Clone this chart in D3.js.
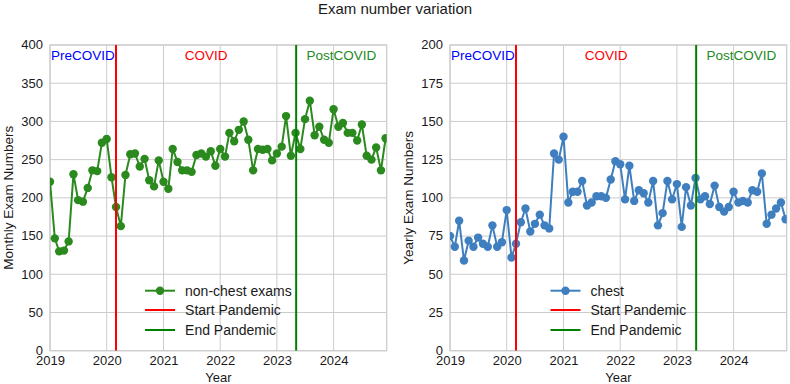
<!DOCTYPE html>
<html><head><meta charset="utf-8">
<script src="https://cdn.jsdelivr.net/npm/d3@7"></script>
<style>body{margin:0;background:#fff}svg text{font-family:"Liberation Sans",Arial,Helvetica,sans-serif}</style>
</head><body>
<svg id="c" width="790" height="384"></svg>
<script>
// ---- data ----
const monthIndex = d3.range(72);
const months = monthIndex.map(i => new Date(2019, i, 1));
const nonChest = [221,147,130,131,143,231,197,195,213,236,235,272,
                  277,227,188,163,230,257,258,241,251,223,215,249,
                  221,212,264,247,236,236,234,256,258,254,261,242,
                  264,254,285,274,289,300,276,236,264,263,264,249,
                  258,267,307,255,285,264,303,327,282,293,276,272,
                  316,293,298,285,285,275,296,255,250,266,236,278];
const chest = [75,68,85,59,72,68,74,70,68,82,68,71,
               92,61,70,84,93,78,83,89,82,80,129,125,
               140,97,104,104,111,95,97,101,101,100,112,124,
               122,99,121,98,105,103,97,111,82,90,111,99,
               109,81,107,95,113,99,101,96,108,94,91,94,
               104,97,98,97,105,104,116,83,89,93,97,86];
const xTickYears = [2019,2020,2021,2022,2023,2024];
const leftYTicks = [0,50,100,150,200,250,300,350,400];
const rightYTicks = [0,25,50,75,100,125,150,175,200];
const pandemicStart = new Date(2020, 2, 1);
const pandemicEnd = new Date(2023, 4, 5);
const periodLabels = ["PreCOVID","COVID","PostCOVID"];
const periodColors = ["#0000ff","#ff0000","#228B22"];
const legendLabels = ["Start Pandemic","End Pandemic"];

// ---- layout ----
const svg = d3.select("#c");
const yTop = 45, yBottom = 350.7;
const xDomain = [new Date(2019,0,1), new Date(2024,11,8)];
const gridColor = "#cccccc";
const textColor = "#1a1a1a";

svg.append("text").attr("x", 395).attr("y", 14).attr("text-anchor","middle")
  .attr("font-size", 15).attr("fill", textColor).text("Exam number variation");

const panels = [
  {x0:50, x1:386.7, data:nonChest, yMax:400, yTicks:leftYTicks, color:"#2a8a1e",
   ylabel:"Monthly Exam Numbers", ylabX:12.5, series:"non-chest exams", id:"L"},
  {x0:450, x1:786.7, data:chest, yMax:200, yTicks:rightYTicks, color:"#3f7fbf",
   ylabel:"Yearly Exam Numbers", ylabX:412.5, series:"chest", id:"R"}
];

panels.forEach(p => {
  const x = d3.scaleTime().domain(xDomain).range([p.x0, p.x1]);
  const y = d3.scaleLinear().domain([0, p.yMax]).range([yBottom, yTop]);
  const g = svg.append("g");

  svg.append("clipPath").attr("id","clip"+p.id).append("rect")
    .attr("x", p.x0).attr("y", yTop).attr("width", p.x1-p.x0).attr("height", yBottom-yTop);

  // grid
  g.selectAll(".hg").data(p.yTicks).join("line")
    .attr("x1", p.x0).attr("x2", p.x1).attr("y1", d=>y(d)).attr("y2", d=>y(d))
    .attr("stroke", gridColor).attr("stroke-width", 1);
  const yearDates = xTickYears.map(yr => new Date(yr,0,1));
  g.selectAll(".vg").data(yearDates).join("line")
    .attr("x1", d=>x(d)).attr("x2", d=>x(d)).attr("y1", yTop).attr("y2", yBottom)
    .attr("stroke", gridColor).attr("stroke-width", 1);

  // frame
  g.append("rect").attr("x", p.x0).attr("y", yTop).attr("width", p.x1-p.x0).attr("height", yBottom-yTop)
    .attr("fill","none").attr("stroke", gridColor).attr("stroke-width", 1.25);

  // axes
  const ya = g.append("g").attr("transform", `translate(${p.x0},0)`)
    .call(d3.axisLeft(y).tickValues(p.yTicks).tickSize(0).tickPadding(7));
  const xa = g.append("g").attr("transform", `translate(0,${yBottom})`)
    .call(d3.axisBottom(x).tickValues(yearDates).tickFormat(d3.timeFormat("%Y")).tickSize(0).tickPadding(5));
  [ya, xa].forEach(a => {
    a.select(".domain").remove();
    a.selectAll("text").attr("font-size", 13).attr("fill", textColor)
      .style("font-family", '"Liberation Sans",Arial,sans-serif');
  });
  ya.selectAll("text").attr("dy", "0.3em");

  // labels
  g.append("text").attr("x", (p.x0+p.x1)/2).attr("y", 382).attr("text-anchor","middle")
    .attr("font-size", 13).attr("fill", textColor).text("Year");
  g.append("text").attr("transform", `translate(${p.ylabX},${(yTop+yBottom)/2}) rotate(-90)`)
    .attr("text-anchor","middle").attr("font-size", 13.5).attr("fill", textColor).text(p.ylabel);

  // data
  const plot = g.append("g").attr("clip-path", `url(#clip${p.id})`);
  const line = d3.line().x((d,i)=>x(months[i])).y(d=>y(d));
  plot.append("path").datum(p.data).attr("d", line).attr("fill","none")
    .attr("stroke", p.color).attr("stroke-width", 2);
  plot.selectAll("circle").data(p.data).join("circle")
    .attr("cx", (d,i)=>x(months[i])).attr("cy", d=>y(d)).attr("r", 4.2).attr("fill", p.color);

  // event lines
  plot.append("line").attr("x1", x(pandemicStart)).attr("x2", x(pandemicStart))
    .attr("y1", yTop).attr("y2", yBottom).attr("stroke","#ff0000").attr("stroke-width", 2);
  plot.append("line").attr("x1", x(pandemicEnd)).attr("x2", x(pandemicEnd))
    .attr("y1", yTop).attr("y2", yBottom).attr("stroke","#008000").attr("stroke-width", 2);

  // period labels
  const bounds = [xDomain[0], pandemicStart, pandemicEnd, xDomain[1]];
  periodLabels.forEach((lab, k) => {
    g.append("text").attr("x", (x(bounds[k]) + x(bounds[k+1]))/2).attr("y", 60)
      .attr("text-anchor","middle").attr("font-size", 13.5).attr("fill", periodColors[k]).text(lab);
  });

  // legend
  const items = [{label:p.series, color:p.color, marker:true},
                 {label:legendLabels[0], color:"#ff0000"},
                 {label:legendLabels[1], color:"#008000"}];
  const lg = g.append("g");
  const rowsY = [290.7, 310, 330];
  let maxW = 0;
  items.forEach((it, k) => {
    const t = lg.append("text").attr("x", 40).attr("y", rowsY[k] + 5)
      .attr("font-size", 14).attr("fill", textColor).text(it.label);
    maxW = Math.max(maxW, t.node().getComputedTextLength());
    lg.append("line").attr("x1", 0).attr("x2", 30).attr("y1", rowsY[k]).attr("y2", rowsY[k])
      .attr("stroke", it.color).attr("stroke-width", 2);
    if (it.marker) lg.append("circle").attr("cx", 15).attr("cy", rowsY[k]).attr("r", 4.2).attr("fill", it.color);
  });
  const totalW = 40 + maxW;
  lg.attr("transform", `translate(${(p.x0+p.x1)/2 - totalW/2},0)`);
});
</script>
</body></html>
